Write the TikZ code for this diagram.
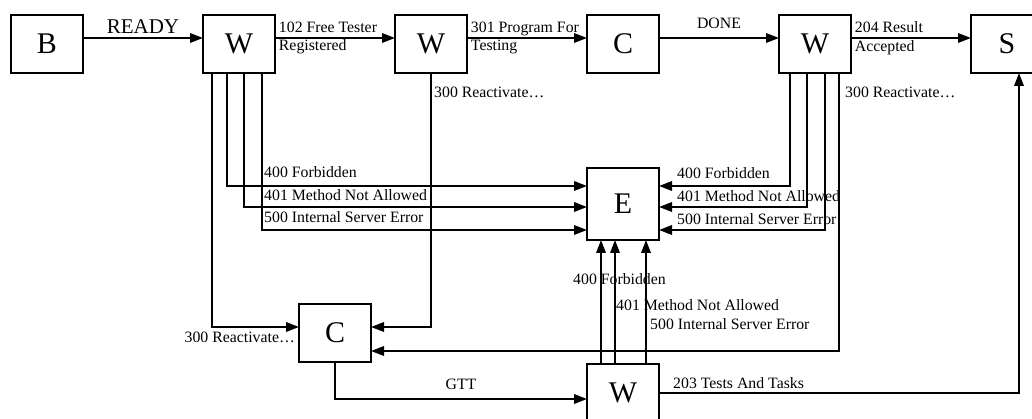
\documentclass[tikz,border=0pt]{standalone}
\usepackage{fontspec}
\setmainfont{Liberation Serif}
\usetikzlibrary{arrows.meta, positioning, calc}

\begin{document}
\begin{tikzpicture}[
		%--- Node Styles ---------------------------------------------------
		state/.style={
			rectangle,
			draw=black,
			line width=2pt,
			minimum width=72pt,
			minimum height=58pt,
			inner sep=0pt,
			outer sep=0pt,
			font=\fontsize{30}{36}\selectfont
		},
		errstate/.style={
			state,
			minimum height=72pt
		},
		%--- Arrow Styles --------------------------------------------------
		msg/.style={
			-{Triangle[length=13pt,width=9.5pt]},
			line width=1.9pt,
			draw=black
		},
		%--- Label Styles --------------------------------------------------
		msglabel/.style={
			font=\fontsize{15.8}{18.5}\selectfont,
			inner sep=1pt,
			align=left
		},
		biglabel/.style={
			font=\fontsize{21}{25}\selectfont,
			inner sep=2pt
		}
		]
		
		\useasboundingbox (0,0) rectangle (1032pt,-419pt);
		\clip (0,0) rectangle (1032pt,-419pt);
		
		%--- Top Row Nodes (left to right) -------------------------------------
		
		\node[state] (B) at (47pt,-44pt) {B};
		\node[state, right=120pt of B]  (W1) {W};
		\node[state, right=120pt of W1] (W2) {W};
		\node[state, right=120pt of W2] (C1) {C};
		\node[state, right=120pt of C1] (W3) {W};
		\node[state, right=120pt of W3] (S)  {S};
		
		%--- Lower Nodes -------------------------------------------------------
		
		\node[errstate, below=95pt of C1] (E)  {E};
		\node[state, below=124pt of E]    (W4) {W};
		\node[state] (C2) at ($(W1)!0.5!(W2)+(0,-288.5pt)$) {C};
		
		%--- Main Flow Arrows --------------------------------------------------
		
		\draw[msg] ([yshift=6pt]B.east) -- node[biglabel, above=2pt] (lready) {READY} ([yshift=6pt]W1.west);
		\draw[msg] ([yshift=6pt]W1.east) -- node[msglabel, pos=0, anchor=west, xshift=2pt] (l102)
		{102 Free Tester\\Registered} ([yshift=6pt]W2.west);
		\draw[msg] ([yshift=6pt]W2.east) -- node[msglabel, pos=0, anchor=west, xshift=2pt] (l301)
		{301 Program For\\Testing} ([yshift=6pt]C1.west);
		\draw[msg] ([yshift=6pt]C1.east) -- node[msglabel, above=7pt] (ldone) {DONE} ([yshift=6pt]W3.west);
		\draw[msg] ([yshift=6pt]W3.east) -- node[msglabel, pos=0, anchor=west, xshift=2pt] (l204)
		{204 Result\\Accepted} ([yshift=6pt]S.west);
		
		%--- Reactivate Arrows into C ------------------------------------------
		
		\draw[msg] ([xshift=-27pt]W1.south) |- ([yshift=5.5pt]C2.west);
		\draw[msg] (W2.south) |- ([yshift=5.5pt]C2.east);
		\draw[msg] ([xshift=24pt]W3.south) |- ([yshift=-18.5pt]C2.east);
		
		\node[msglabel, anchor=base east] (r300a) at ($(C2.west)+(-3pt,-9.5pt)$) {300 Reactivate…};
		\node[msglabel, anchor=base west] (r300b) at ($(W2.south)+(2pt,-25pt)$) {300 Reactivate…};
		\node[msglabel, anchor=base west] (r300c) at ($(W3.south)+(29pt,-25pt)$) {300 Reactivate…};
		
		%--- Error Arrows from the left W --------------------------------------
		
		\draw[msg] ([xshift=-12pt]W1.south) |- ([yshift=18pt]E.west);
		\draw[msg] ([xshift=5pt]W1.south)   |- ([yshift=-3pt]E.west);
		\draw[msg] ([xshift=23pt]W1.south)  |- ([yshift=-26pt]E.west);
		
		\node[msglabel, anchor=base west] (f400a) at ($(W1.south |- E.west)+(24pt,26.5pt)$) {400 Forbidden};
		\node[msglabel, anchor=base west] (m401a) at ($(W1.south |- E.west)+(24pt,3pt)$) {401 Method Not Allowed};
		\node[msglabel, anchor=base west] (e500a) at ($(W1.south |- E.west)+(24pt,-19pt)$) {500 Internal Server Error};
		
		%--- Error Arrows from the right W -------------------------------------
		
		\draw[msg] ([xshift=-25pt]W3.south) |- ([yshift=18pt]E.east);
		\draw[msg] ([xshift=-8pt]W3.south)  |- ([yshift=-3pt]E.east);
		\draw[msg] ([xshift=10pt]W3.south)  |- ([yshift=-26pt]E.east);
		
		\node[msglabel, anchor=base west] (f400b) at ($(E.east)+(17pt,25.5pt)$) {400 Forbidden};
		\node[msglabel, anchor=base west] (m401b) at ($(E.east)+(17pt,2pt)$) {401 Method Not Allowed};
		\node[msglabel, anchor=base west] (e500b) at ($(E.east)+(17pt,-21pt)$) {500 Internal Server Error};
		
		%--- Error Arrows from the bottom W ------------------------------------
		
		\draw[msg] ([xshift=-22pt]W4.north) -- ([xshift=-22pt]E.south);
		\draw[msg] ([xshift=-8pt]W4.north)  -- ([xshift=-8pt]E.south);
		\draw[msg] ([xshift=23pt]W4.north)  -- ([xshift=23pt]E.south);
		
		\node[msglabel, anchor=base west] (f400c) at ($(W4.north)+(-51pt,79pt)$) {400 Forbidden};
		\node[msglabel, anchor=base west] (m401c) at ($(W4.north)+(-8pt,54pt)$) {401 Method Not Allowed};
		\node[msglabel, anchor=base west] (e500c) at ($(W4.north)+(26pt,35pt)$) {500 Internal Server Error};
		
		%--- Bottom Path -------------------------------------------------------
		
		\draw[msg] (C2.south) |- node[msglabel, pos=0.75, above=7pt] (lgtt) {GTT} ([yshift=-6pt]W4.west);
		\draw[msg] (W4.east) -| ([xshift=12pt]S.south);
		
		\node[msglabel, anchor=base west] (l203) at ($(W4.east)+(13pt,5pt)$) {203 Tests And Tasks};
		
	\end{tikzpicture}
\end{document}
